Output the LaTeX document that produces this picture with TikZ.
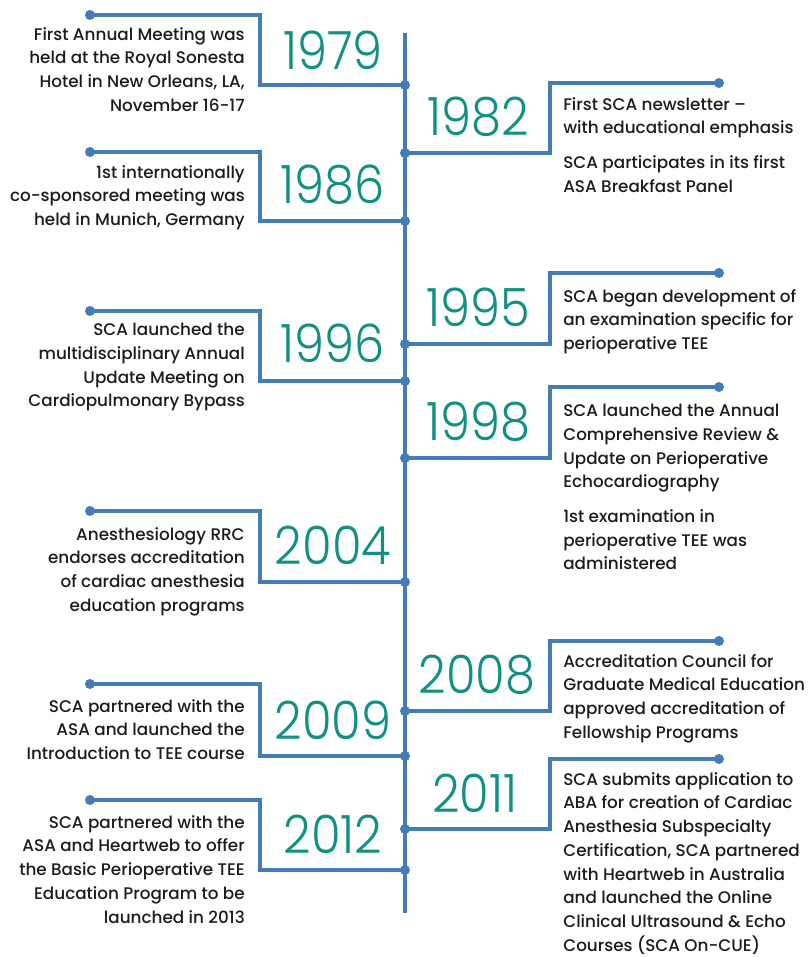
\documentclass[tikz,border=0pt]{standalone}
\usepackage{fontspec}
\setmainfont{Poppins Medium}
\newfontfamily\yearfont{Poppins Light}
\usetikzlibrary{positioning}
\definecolor{tlblue}{RGB}{68,125,182}
\definecolor{tlteal}{RGB}{18,145,130}
\definecolor{tltext}{RGB}{30,27,28}
\tikzstyle{tldot} = [circle, fill=tlblue, inner sep=0pt, minimum size=7.5pt]
\tikzstyle{link} = [line width=2.6pt, color=tlblue]
\tikzstyle{spine} = [line width=2.6pt, color=tlblue]
\tikzstyle{yearlabel} = [inner sep=0pt, text=tlteal, font=\yearfont\fontsize{36}{36}\selectfont, yscale=1.1, transform shape]
\tikzstyle{eventleft} = [anchor=north east, align=right, inner sep=0pt, text=tltext, font=\fontsize{12.6}{17.8}\selectfont]
\tikzstyle{eventright} = [anchor=north west, align=left, inner sep=0pt, text=tltext, font=\fontsize{12.6}{17.8}\selectfont]

\begin{document}
\begin{tikzpicture}[x=0.75pt, y=-0.75pt]
\useasboundingbox[fill=white] (0,0) rectangle (812,957);
\coordinate (elbowL) at (260,0);
\coordinate (elbowR) at (550,0);

% Timeline spine
\coordinate (top) at (405,33);
\coordinate (bottom) at (405,913);
\draw[spine] (top) -- (bottom);

% Left side events
\node (d79) [tldot] at (90,15) {};
\node (j79) [tldot] at (405,85) {};
\node (y79) [yearlabel] at (333,50) {1979};
\node (t79) [eventleft] at (245,27) {First Annual Meeting was\\held at the Royal Sonesta\\Hotel in New Orleans, LA,\\November 16-17};
\draw[link] (d79.center) -| (elbowL |- j79) -- (j79.center);

\node (d86) [tldot] at (90,152) {};
\node (j86) [tldot] at (405,221) {};
\node (y86) [yearlabel] at (333,185) {1986};
\node (t86) [eventleft] at (245,165) {1st internationally\\co-sponsored meeting was\\held in Munich, Germany};
\draw[link] (d86.center) -| (elbowL |- j86) -- (j86.center);

\node (d96) [tldot] at (90,311) {};
\node (j96) [tldot] at (405,381) {};
\node (y96) [yearlabel] at (333,343) {1996};
\node (t96) [eventleft] at (245,323) {SCA launched the\\multidisciplinary Annual\\Update Meeting on\\Cardiopulmonary Bypass};
\draw[link] (d96.center) -| (elbowL |- j96) -- (j96.center);

\node (d04) [tldot] at (90,511) {};
\node (j04) [tldot] at (405,582) {};
\node (y04) [yearlabel] at (333,545) {2004};
\node (t04) [eventleft] at (245,527) {Anesthesiology RRC\\endorses accreditation\\of cardiac anesthesia\\education programs};
\draw[link] (d04.center) -| (elbowL |- j04) -- (j04.center);

\node (d09) [tldot] at (90,684) {};
\node (j09) [tldot] at (405,756) {};
\node (y09) [yearlabel] at (333,720) {2009};
\node (t09) [eventleft] at (245,699) {SCA partnered with the\\ASA and launched the\\Introduction to TEE course};
\draw[link] (d09.center) -| (elbowL |- j09) -- (j09.center);

\node (d12) [tldot] at (90,800) {};
\node (j12) [tldot] at (405,870) {};
\node (y12) [yearlabel] at (333,834) {2012};
\node (t12) [eventleft] at (245,815) {SCA partnered with the\\ASA and Heartweb to offer\\the Basic Perioperative TEE\\Education Program to be\\launched in 2013};
\draw[link] (d12.center) -| (elbowL |- j12) -- (j12.center);

% Right side events
\node (d82) [tldot] at (719,83) {};
\node (j82) [tldot] at (405,153) {};
\node (y82) [yearlabel] at (478,117) {1982};
\node (t82) [eventright] at (563,97) {First SCA newsletter --\\with educational emphasis\\[8pt]SCA participates in its first\\ASA Breakfast Panel};
\draw[link] (j82.center) -- (elbowR |- j82) |- (d82.center);

\node (d95) [tldot] at (719,273) {};
\node (j95) [tldot] at (405,344) {};
\node (y95) [yearlabel] at (478,307) {1995};
\node (t95) [eventright] at (563,289) {SCA began development of\\an examination specific for\\perioperative TEE};
\draw[link] (j95.center) -- (elbowR |- j95) |- (d95.center);

\node (d98) [tldot] at (719,387) {};
\node (j98) [tldot] at (405,458) {};
\node (y98) [yearlabel] at (478,422) {1998};
\node (t98) [eventright] at (563,404) {SCA launched the Annual\\Comprehensive Review \&\\Update on Perioperative\\Echocardiography\\[8pt]1st examination in\\perioperative TEE was\\administered};
\draw[link] (j98.center) -- (elbowR |- j98) |- (d98.center);

\node (d08) [tldot] at (719,641) {};
\node (j08) [tldot] at (405,711) {};
\node (y08) [yearlabel] at (477,675) {2008};
\node (t08) [eventright] at (563,654) {Accreditation Council for\\Graduate Medical Education\\approved accreditation of\\Fellowship Programs};
\draw[link] (j08.center) -- (elbowR |- j08) |- (d08.center);

\node (d11) [tldot] at (719,759) {};
\node (j11) [tldot] at (405,829) {};
\node (y11) [yearlabel] at (475,793) {2011};
\node (t11) [eventright] at (563,772) {SCA submits application to\\ABA for creation of Cardiac\\Anesthesia Subspecialty\\Certification, SCA partnered\\with Heartweb in Australia\\and launched the Online\\Clinical Ultrasound \& Echo\\Courses (SCA On-CUE)};
\draw[link] (j11.center) -- (elbowR |- j11) |- (d11.center);
\end{tikzpicture}
\end{document}
